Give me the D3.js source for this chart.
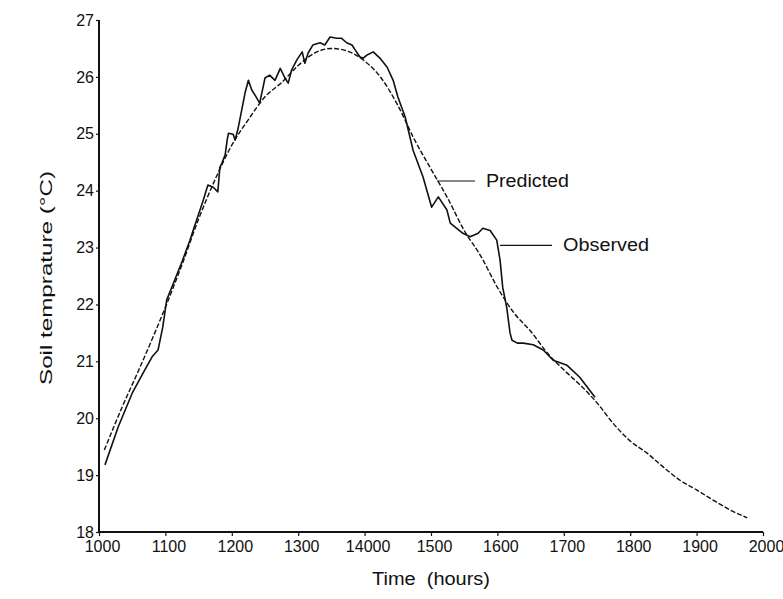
<!DOCTYPE html>
<html>
<head>
<script src="https://d3js.org/d3.v7.min.js"></script>
<style>
  body { margin: 0; background: #fff; }
  text { font-family: "Liberation Sans", Arial, sans-serif; fill: #111; }
</style>
</head>
<body>
<script>
// x tick values and the labels printed under them (the source prints "14000")
const xTicks = [1000, 1100, 1200, 1300, 1400, 1500, 1600, 1700, 1800, 1900, 2000];
const xTickLabels = ["1000", "1100", "1200", "1300", "14000", "1500", "1600", "1700", "1800", "1900", "2000"];
const yTicks = [18, 19, 20, 21, 22, 23, 24, 25, 26, 27];

// predicted soil temperature (smooth model curve)
const predTime = [1008, 1035, 1060, 1084, 1100, 1125, 1150, 1175, 1200, 1225, 1250, 1275, 1300, 1325, 1350, 1375,
  1400, 1425, 1450, 1475, 1500, 1525, 1550, 1575, 1600, 1625, 1650, 1675, 1700, 1725, 1750, 1775, 1800, 1825,
  1850, 1875, 1900, 1925, 1950, 1976];
const predTemp = [19.44, 20.2, 20.85, 21.5, 21.95, 22.7, 23.5, 24.2, 24.8, 25.25, 25.65, 25.9, 26.2, 26.42, 26.5, 26.45,
  26.28, 25.98, 25.5, 24.9, 24.38, 23.87, 23.3, 22.85, 22.3, 21.85, 21.53, 21.15, 20.85, 20.58, 20.27, 19.9, 19.6, 19.39,
  19.14, 18.91, 18.74, 18.56, 18.39, 18.25];

// observed soil temperature (measured, noisy)
const obsTime = [1009, 1029, 1050, 1069, 1080, 1089, 1096, 1102, 1114, 1125, 1137, 1142, 1157, 1164, 1172, 1179,
  1182, 1185, 1190, 1193, 1195, 1202, 1205, 1209, 1215, 1220, 1225, 1230, 1235, 1242, 1250, 1257, 1265, 1273,
  1280, 1285, 1290, 1298, 1306, 1310, 1315, 1322, 1333, 1340, 1348, 1358, 1365, 1373, 1381, 1386, 1393, 1398,
  1403, 1413, 1423, 1434, 1443, 1450, 1461, 1473, 1488, 1501, 1511, 1524, 1529, 1548, 1559, 1571, 1578, 1589,
  1599, 1604, 1608, 1614, 1619, 1622, 1630, 1639, 1654, 1669, 1684, 1705, 1724, 1747];
const obsTemp = [19.18, 19.85, 20.44, 20.85, 21.08, 21.2, 21.6, 22.08, 22.43, 22.75, 23.13, 23.31, 23.83, 24.1, 24.06, 23.98,
  24.41, 24.48, 24.63, 24.89, 25.01, 24.99, 24.89, 25.07, 25.42, 25.72, 25.94, 25.77, 25.68, 25.54, 25.98, 26.03, 25.94, 26.15,
  25.98, 25.89, 26.12, 26.3, 26.44, 26.24, 26.42, 26.56, 26.6, 26.56, 26.7, 26.68, 26.68, 26.6, 26.56, 26.47, 26.35, 26.33,
  26.38, 26.44, 26.33, 26.17, 25.94, 25.65, 25.3, 24.71, 24.24, 23.71, 23.89, 23.66, 23.43, 23.25, 23.19, 23.25, 23.34, 23.3,
  23.13, 22.78, 22.3, 21.95, 21.5, 21.37, 21.32, 21.32, 21.29, 21.2, 21.02, 20.93, 20.72, 20.37];

const width = 783, height = 599;

const svg = d3.select("body").append("svg")
  .attr("width", width)
  .attr("height", height);

const x = d3.scaleLinear().domain([1000, 2000]).range([99, 763]);
const y = d3.scaleLinear().domain([18, 27]).range([532, 20]);

// axes
const xAxis = svg.append("g")
  .attr("transform", `translate(0,${y(18)})`)
  .call(d3.axisBottom(x).tickValues(xTicks).tickSize(4).tickPadding(5)
    .tickFormat((d, i) => xTickLabels[i]));
const yAxis = svg.append("g")
  .attr("transform", `translate(${x(1000)},0)`)
  .call(d3.axisLeft(y).tickValues(yTicks).tickSize(3).tickPadding(2).tickFormat(d3.format("d")));

[xAxis, yAxis].forEach(a => {
  a.select(".domain").attr("stroke", "#111").attr("stroke-width", 2);
  a.selectAll(".tick line").attr("stroke", "#111").attr("stroke-width", 1.2);
  a.selectAll(".tick text").attr("font-size", 16).attr("fill", "#111")
    .style("font-family", "'Liberation Sans', Arial, sans-serif");
});
xAxis.selectAll(".tick text").attr("dx", 3);
yAxis.select(".domain").attr("d", `M0,${y(18)}V${y(27)}`);
xAxis.select(".domain").attr("transform", `translate(${x(1000)},0)`)
  .attr("d", `M0,0H${x(2000) - x(1000)}`);

// curves
const predData = predTime.map((t, i) => [t, predTemp[i]]);
const obsData = obsTime.map((t, i) => [t, obsTemp[i]]);
const line = d3.line().x(d => x(d[0])).y(d => y(d[1])).curve(d3.curveMonotoneX);

svg.append("path")
  .datum(predData)
  .attr("d", line)
  .attr("fill", "none")
  .attr("stroke", "#111")
  .attr("stroke-width", 1.4)
  .attr("stroke-dasharray", "5,2");

svg.append("path")
  .datum(obsData)
  .attr("d", d3.line().x(d => x(d[0])).y(d => y(d[1])))
  .attr("fill", "none")
  .attr("stroke", "#111")
  .attr("stroke-width", 1.6)
  .attr("stroke-linejoin", "round");

// callout labels
const callouts = [
  { name: "Predicted", t: 1509, v: 24.17, len: 38, w: 83 },
  { name: "Observed", t: 1604, v: 23.04, len: 52, w: 86 }
];
callouts.forEach(c => {
  const cx = x(c.t), cy = y(c.v);
  svg.append("line")
    .attr("x1", cx).attr("y1", cy)
    .attr("x2", cx + c.len).attr("y2", cy)
    .attr("stroke", "#111").attr("stroke-width", 1.2);
  svg.append("text")
    .attr("x", cx + c.len + 11).attr("y", cy + 6)
    .attr("font-size", 18)
    .attr("textLength", c.w).attr("lengthAdjust", "spacingAndGlyphs")
    .text(c.name);
});

// axis titles
svg.append("text")
  .attr("transform", `translate(52,278) rotate(-90)`)
  .attr("text-anchor", "middle")
  .attr("font-size", 17)
  .attr("textLength", 214).attr("lengthAdjust", "spacingAndGlyphs")
  .text("Soil temprature (°C)");

svg.append("text")
  .attr("x", 431).attr("y", 585)
  .attr("text-anchor", "middle")
  .attr("font-size", 18)
  .attr("textLength", 118).attr("lengthAdjust", "spacingAndGlyphs")
  .text("Time\u00a0 (hours)");
</script>
</body>
</html>
